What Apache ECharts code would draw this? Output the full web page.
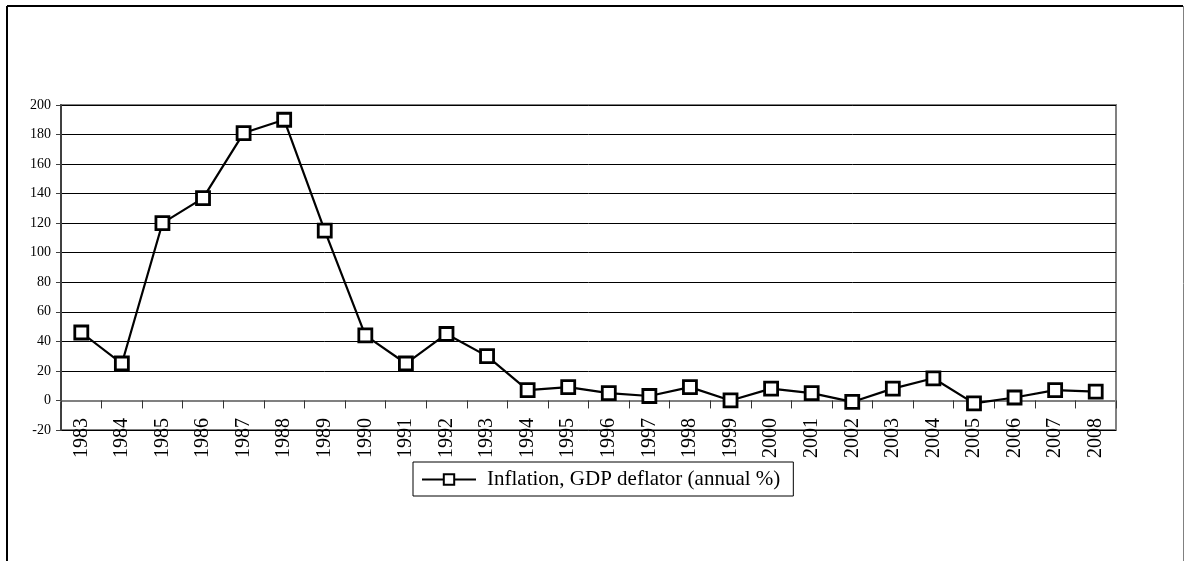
<!DOCTYPE html>
<html>
<head>
<meta charset="utf-8">
<script src="https://cdn.jsdelivr.net/npm/echarts@6/dist/echarts.min.js"></script>
<style>
  html, body { margin: 0; padding: 0; background: #fff; }
  #chart { width: 1185px; height: 561px; }
</style>
</head>
<body>
<div id="chart"></div>
<script>
// Years on the category axis
const years = ['1983','1984','1985','1986','1987','1988','1989','1990','1991','1992',
  '1993','1994','1995','1996','1997','1998','1999','2000','2001','2002',
  '2003','2004','2005','2006','2007','2008'];

// Inflation, GDP deflator (annual %)
const inflation = [46, 25, 120, 137, 181, 190, 115, 44, 25, 45,
  30, 7, 9, 5, 3, 9, 0, 8, 5, -1,
  8, 15, -2, 2, 7, 6];

const seriesName = 'Inflation, GDP deflator (annual %)';

// Value axis range
const yMin = -20, yMax = 200, yStep = 20;

const serif = '"Liberation Serif", "Times New Roman", serif';

const chart = echarts.init(document.getElementById('chart'), null, { renderer: 'canvas' });

chart.setOption({
  animation: false,
  backgroundColor: '#fff',
  textStyle: { fontFamily: serif },
  graphic: [
    // outer frame: dark top and left edges, light right edge
    { type: 'line', shape: { x1: 7, y1: 6, x2: 1183, y2: 6 }, style: { stroke: '#000', lineWidth: 2 } },
    { type: 'line', shape: { x1: 7, y1: 6, x2: 7, y2: 561 }, style: { stroke: '#000', lineWidth: 2 } },
    { type: 'line', shape: { x1: 1183.5, y1: 6, x2: 1183.5, y2: 561 }, style: { stroke: '#808080', lineWidth: 1 } }
  ],
  grid: {
    left: 61, top: 105, width: 1055, height: 325,
    show: true, borderColor: '#808080', borderWidth: 2, backgroundColor: 'transparent'
  },
  legend: {
    data: [seriesName],
    left: 413, top: 462,
    orient: 'horizontal',
    borderColor: '#000', borderWidth: 1,
    padding: [7, 13, 6, 8],
    itemWidth: 54, itemHeight: 13,
    textStyle: { fontFamily: serif, fontSize: 21, color: '#000', padding: [0, 0, 0, 6] }
  },
  xAxis: {
    type: 'category',
    data: years,
    boundaryGap: true,
    axisLine: { onZero: true, lineStyle: { color: '#808080', width: 2 } },
    axisTick: { show: true, length: 8, alignWithLabel: false, lineStyle: { color: '#333', width: 1 } },
    axisLabel: {
      // labels hang just under the zero line, overlapping the lowest band
      rotate: 90, interval: 0, margin: -12,
      fontFamily: serif, fontSize: 20, color: '#000'
    },
    splitLine: { show: false }
  },
  yAxis: {
    type: 'value',
    min: yMin, max: yMax, interval: yStep,
    axisLine: { show: true, lineStyle: { color: '#404040', width: 2 } },
    axisTick: { show: true, length: 5, lineStyle: { color: '#404040', width: 1 } },
    axisLabel: { margin: 10, fontFamily: serif, fontSize: 14, color: '#000' },
    splitLine: { show: true, lineStyle: { color: '#000', width: 1 } }
  },
  series: [{
    name: seriesName,
    type: 'line',
    data: inflation,
    symbol: 'rect',
    symbolSize: 13,
    showAllSymbol: true,
    lineStyle: { color: '#000', width: 2.2 },
    itemStyle: { color: '#fff', borderColor: '#000', borderWidth: 2.8 },
    z: 5
  }]
});
</script>
</body>
</html>
